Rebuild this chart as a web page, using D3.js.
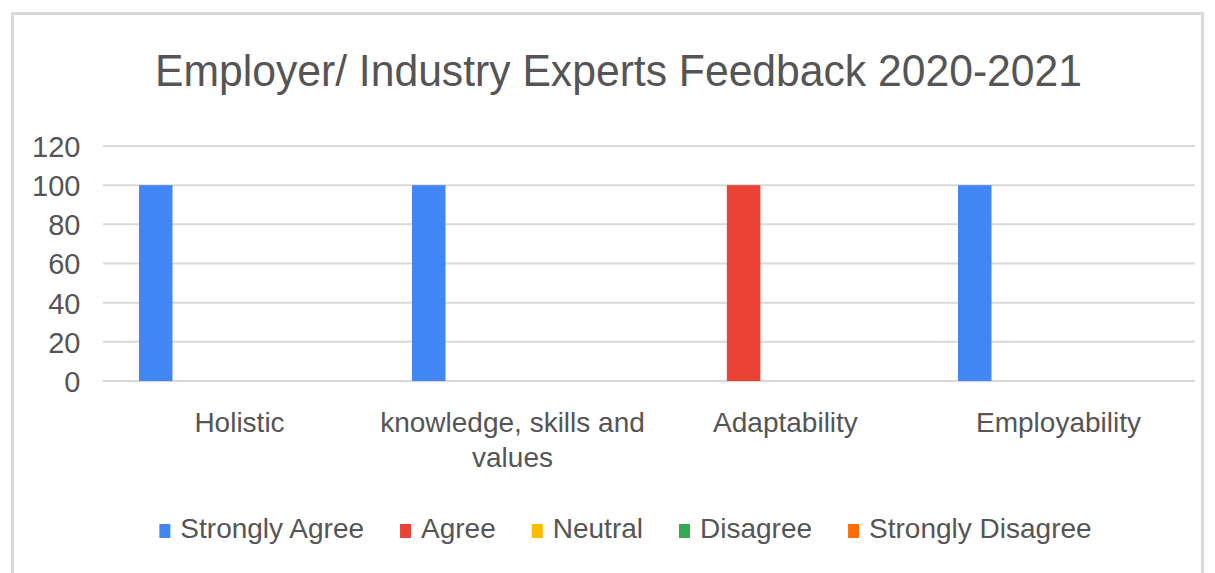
<!DOCTYPE html>
<html>
<head>
<meta charset="utf-8">
<script src="https://cdn.jsdelivr.net/npm/d3@7"></script>
<style>
  body { margin: 0; background: #fff; }
  text { font-family: "Liberation Sans", Arial, sans-serif; fill: #555555; }
</style>
</head>
<body>
<script>
// Chart data
const categories = ['Holistic', 'knowledge, skills and values', 'Adaptability', 'Employability'];
const categoryLines = [['Holistic'], ['knowledge, skills and', 'values'], ['Adaptability'], ['Employability']];
const seriesNames = ['Strongly Agree', 'Agree', 'Neutral', 'Disagree', 'Strongly Disagree'];
const seriesColors = ['#4285f4', '#ea4335', '#fbbc04', '#34a853', '#ff6d01'];
const stronglyAgree = [100, 100, 0, 100];
const agree = [0, 0, 100, 0];
const neutral = [0, 0, 0, 0];
const disagree = [0, 0, 0, 0];
const stronglyDisagree = [0, 0, 0, 0];
const yTicks = [0, 20, 40, 60, 80, 100, 120];

const seriesValues = [stronglyAgree, agree, neutral, disagree, stronglyDisagree];

const WIDTH = 1215;
const HEIGHT = 573;
const PLOT = {left: 103, right: 1195, top: 146, bottom: 381};

const svg = d3.select('body')
  .append('svg')
  .attr('width', WIDTH)
  .attr('height', HEIGHT);

// outer frame
svg.append('rect')
  .attr('x', 12.5)
  .attr('y', 13.5)
  .attr('width', 1190)
  .attr('height', 620)
  .attr('fill', 'none')
  .attr('stroke', '#d9d9d9')
  .attr('stroke-width', 3);

// Scales
const x0 = d3.scaleBand()
  .domain(categories)
  .range([PLOT.left, PLOT.right])
  .paddingInner(0.233)
  .paddingOuter(0.1165);

const x1 = d3.scaleBand()
  .domain(seriesNames)
  .range([0, x0.bandwidth()])
  .paddingInner(0.2)
  .paddingOuter(0.1);

const y = d3.scaleLinear()
  .domain([0, 120])
  .range([PLOT.bottom, PLOT.top]);

// Gridlines
svg.append('g')
  .selectAll('line')
  .data(yTicks)
  .enter().append('line')
  .attr('x1', PLOT.left)
  .attr('x2', PLOT.right)
  .attr('y1', d => y(d))
  .attr('y2', d => y(d))
  .attr('stroke', '#d9d9d9')
  .attr('stroke-width', 2);

// Y axis labels
const yAxis = d3.axisLeft(y).tickValues(yTicks).tickSize(0).tickPadding(0);
const yg = svg.append('g')
  .attr('transform', 'translate(80.5,0)')
  .call(yAxis);
yg.select('.domain').remove();
yg.selectAll('text')
  .attr('font-size', 29)
  .attr('font-family', '"Liberation Sans", Arial, sans-serif')
  .attr('fill', '#555555')
  .attr('dy', '0.36em');

// Bars
const groups = svg.append('g')
  .selectAll('g')
  .data(categories)
  .enter().append('g')
  .attr('transform', d => 'translate(' + x0(d) + ',0)');

groups.selectAll('rect')
  .data((d, i) => seriesNames.map((s, j) => ({series: s, value: seriesValues[j][i], color: seriesColors[j]})))
  .enter().append('rect')
  .attr('x', d => x1(d.series))
  .attr('y', d => y(d.value))
  .attr('width', x1.bandwidth())
  .attr('height', d => y(0) - y(d.value))
  .attr('fill', d => d.color);

// Category labels
const catLabels = svg.append('g')
  .selectAll('text')
  .data(categories)
  .enter().append('text')
  .attr('x', d => x0(d) + x0.bandwidth() / 2)
  .attr('y', 432)
  .attr('text-anchor', 'middle')
  .attr('font-size', 28);

catLabels.each(function(d, i) {
  const t = d3.select(this);
  categoryLines[i].forEach((line, k) => {
    t.append('tspan')
      .attr('x', x0(d) + x0.bandwidth() / 2)
      .attr('dy', k === 0 ? 0 : 35)
      .text(line);
  });
});

// Title
svg.append('text')
  .attr('x', 618.5)
  .attr('y', 86)
  .attr('text-anchor', 'middle')
  .attr('font-size', 45)
  .attr('textLength', 927)
  .attr('lengthAdjust', 'spacingAndGlyphs')
  .text('Employer/ Industry Experts Feedback 2020-2021');

// Legend
const legend = svg.append('g').attr('class', 'legend');
let lx = 0;
seriesNames.forEach((name, i) => {
  const item = legend.append('g').attr('transform', 'translate(' + lx + ',0)');
  item.append('rect')
    .attr('x', 0)
    .attr('y', 524)
    .attr('width', 11)
    .attr('height', 14)
    .attr('fill', seriesColors[i]);
  const t = item.append('text')
    .attr('x', 21)
    .attr('y', 538)
    .attr('font-size', 28)
    .text(name);
  lx += 21 + t.node().getComputedTextLength() + 36;
});
const legendWidth = lx - 36;
legend.attr('transform', 'translate(' + (625.5 - legendWidth / 2) + ',0)');
</script>
</body>
</html>
